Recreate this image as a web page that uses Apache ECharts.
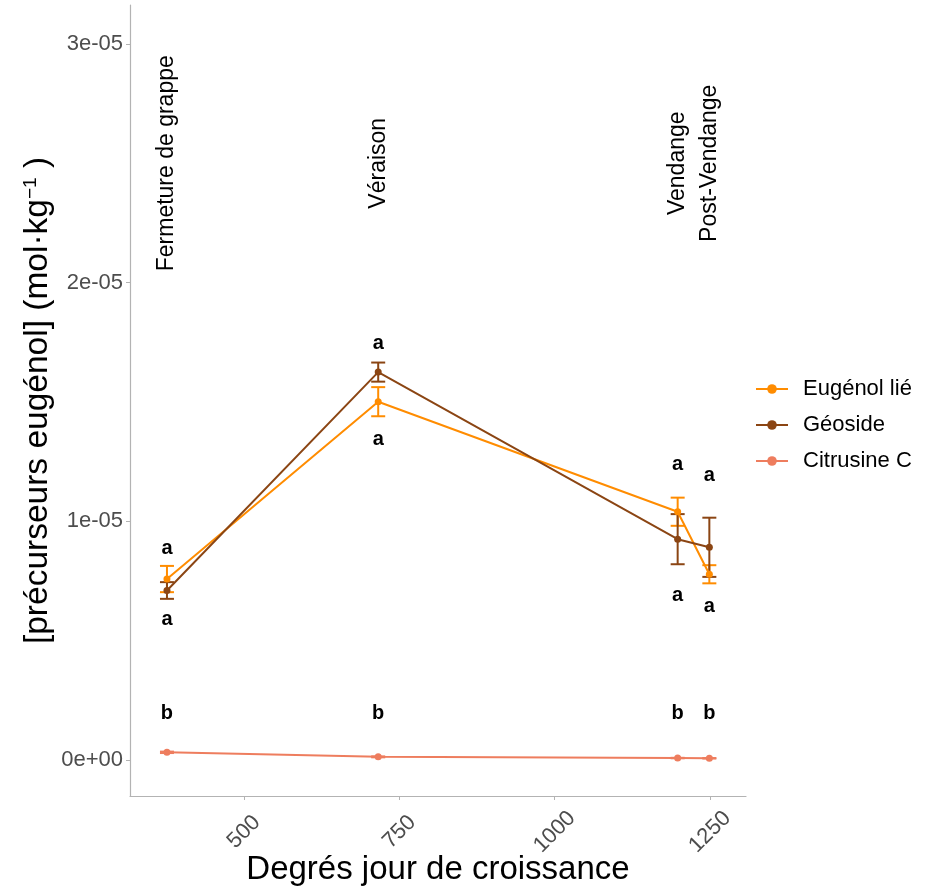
<!DOCTYPE html>
<html><head><meta charset="utf-8">
<script src="https://cdn.jsdelivr.net/npm/echarts@6/dist/echarts.min.js"></script>
<style>html,body{margin:0;padding:0;background:#fff}#c{width:927px;height:890px}</style>
</head><body><div id="c"></div>
<script>
// Data
var xValues = [376, 716, 1198, 1249];
var seriesNames = ['Eugénol lié', 'Géoside', 'Citrusine C'];
var eugenolMean = [7.58e-6, 1.501e-5, 1.040e-5, 7.78e-6];
var eugenolErr  = [0.55e-6, 0.61e-6, 0.59e-6, 0.38e-6];
var geosideMean = [7.1e-6, 1.625e-5, 9.25e-6, 8.91e-6];
var geosideErr  = [0.35e-6, 0.40e-6, 1.05e-6, 1.24e-6];
var citrusMean  = [3.2e-7, 1.3e-7, 0.8e-7, 0.7e-7];
var citrusErr   = [0.3e-7, 0.2e-7, 0.1e-7, 0.1e-7];
var stageNames = ['Fermeture de grappe', 'Véraison', 'Vendange', 'Post-Vendange'];
var stageLabelY = 2.5e-5;
var letters = [
  [376, 8.88e-6, 'a'], [376, 5.87e-6, 'a'], [376, 1.93e-6, 'b'],
  [716, 1.743e-5, 'a'], [716, 1.341e-5, 'a'], [716, 1.93e-6, 'b'],
  [1198, 1.24e-5, 'a'], [1198, 6.87e-6, 'a'], [1198, 1.93e-6, 'b'],
  [1249, 1.19e-5, 'a'], [1249, 6.41e-6, 'a'], [1249, 1.93e-6, 'b']
];
var xTicks = [500, 750, 1000, 1250];
var yTicks = [0, 1e-5, 2e-5, 3e-5];
var yTickLabels = ['0e+00', '1e-05', '2e-05', '3e-05'];
var colors = ['#FF8C00', '#8B4513', '#EE7D5E'];

var FONT = 'Liberation Sans, Arial, sans-serif';

function pts(means) { return xValues.map(function (x, i) { return [x, means[i]]; }); }
function errData(means, errs) { return xValues.map(function (x, i) { return [x, means[i] - errs[i], means[i] + errs[i]]; }); }

function errSeries(name, means, errs, color) {
  return {
    type: 'custom', name: name + ' err', silent: true, z: 3,
    data: errData(means, errs),
    renderItem: function (params, api) {
      var lo = api.coord([api.value(0), api.value(1)]);
      var hi = api.coord([api.value(0), api.value(2)]);
      var w = 7;
      var st = { stroke: color, lineWidth: 2 };
      return { type: 'group', children: [
        { type: 'line', shape: { x1: lo[0], y1: lo[1], x2: hi[0], y2: hi[1] }, style: st },
        { type: 'line', shape: { x1: lo[0] - w, y1: lo[1], x2: lo[0] + w, y2: lo[1] }, style: st },
        { type: 'line', shape: { x1: hi[0] - w, y1: hi[1], x2: hi[0] + w, y2: hi[1] }, style: st }
      ]};
    }
  };
}

function lineSeries(name, means, color, z) {
  return {
    type: 'line', name: name, data: pts(means), z: z,
    symbol: 'circle', symbolSize: 7, showSymbol: true,
    lineStyle: { width: 2, color: color }, itemStyle: { color: color },
    emphasis: { disabled: true }
  };
}

var series = [
  errSeries('Citrusine C', citrusMean, citrusErr, colors[2]),
  lineSeries('Citrusine C', citrusMean, colors[2], 4),
  errSeries('Eugénol lié', eugenolMean, eugenolErr, colors[0]),
  lineSeries('Eugénol lié', eugenolMean, colors[0], 4),
  errSeries('Géoside', geosideMean, geosideErr, colors[1]),
  lineSeries('Géoside', geosideMean, colors[1], 5),
  {
    type: 'scatter', name: 'letters', silent: true, symbolSize: 0, z: 6,
    itemStyle: { opacity: 1 },
    data: letters.map(function (d) { return { value: [d[0], d[1]], name: d[2] }; }),
    label: { show: true, position: 'inside', formatter: '{b}', color: '#000', fontWeight: 'bold', fontSize: 20, fontFamily: FONT }
  },
  {
    type: 'scatter', name: 'stages', silent: true, symbolSize: 0, z: 6,
    itemStyle: { opacity: 1 },
    data: stageNames.map(function (s, i) { return { value: [xValues[i], stageLabelY], name: s }; }),
    label: { show: true, position: 'inside', rotate: 90, formatter: '{b}', color: '#000', fontSize: 23, fontFamily: FONT, align: 'center', verticalAlign: 'middle' }
  }
];

var chart = echarts.init(document.getElementById('c'), null, { renderer: 'canvas' });
chart.setOption({
  backgroundColor: '#fff',
  animation: false,
  grid: { left: 130, right: 181, top: 5, bottom: 94, containLabel: false, outerBoundsMode: 'none' },
  legend: {
    data: seriesNames.map(function (n) { return { name: n }; }),
    orient: 'vertical', left: 750, top: 373, itemGap: 14, itemWidth: 32, itemHeight: 12,
    textStyle: { fontSize: 22, color: '#000', fontFamily: FONT, padding: [0, 0, 0, 10] },
    selectedMode: false
  },
  xAxis: {
    type: 'value', min: 316.5, max: 1308,
    name: 'Degrés jour de croissance', nameLocation: 'middle', nameGap: 57, nameMoveOverlap: false,
    nameTextStyle: { fontSize: 33, color: '#000', fontFamily: FONT },
    axisLine: { show: true, onZero: false, lineStyle: { color: '#b3b3b3', width: 1.2 } },
    axisTick: { show: true, length: 4, lineStyle: { color: '#b3b3b3' }, customValues: xTicks },
    axisLabel: {
      customValues: xTicks, rotate: 45, fontSize: 22, color: '#4d4d4d', fontFamily: FONT, margin: 36,
      align: 'center', verticalAlign: 'middle',
      formatter: function (v) { return String(v); }
    },
    splitLine: { show: false }
  },
  yAxis: {
    type: 'value', min: -1.51e-6, max: 3.163e-5,
    name: '[précurseurs eugénol] (mol·kg{sup|−1} )', nameLocation: 'middle', nameGap: 75, nameRotate: 90, nameMoveOverlap: false,
    nameTextStyle: { fontSize: 33.5, color: '#000', fontFamily: FONT, rich: { sup: { fontSize: 19, verticalAlign: 'top', padding: [0, 0, 15, 0], fontFamily: FONT, color: '#000' } } },
    axisLine: { show: true, onZero: false, lineStyle: { color: '#b3b3b3', width: 1.2 } },
    axisTick: { show: true, length: 4, lineStyle: { color: '#b3b3b3' }, customValues: yTicks },
    axisLabel: {
      customValues: yTicks, fontSize: 22, color: '#4d4d4d', fontFamily: FONT, margin: 7,
      formatter: function (v) { var i = yTicks.indexOf(v); return i >= 0 ? yTickLabels[i] : ''; }
    },
    splitLine: { show: false }
  },
  series: series
});
</script></body></html>
